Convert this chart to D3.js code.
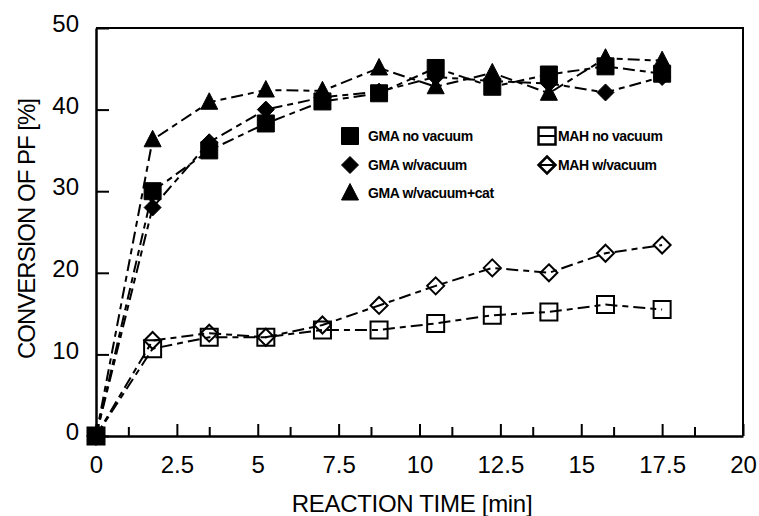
<!DOCTYPE html>
<html>
<head>
<meta charset="utf-8">
<script src="https://cdn.jsdelivr.net/npm/d3@7"></script>
<style>
  body { margin: 0; background: #fff; }
  svg { display: block; font-family: "Liberation Sans", Arial, sans-serif; }
</style>
</head>
<body>
<svg></svg>
<script>
// data
const times = [0, 1.75, 3.5, 5.25, 7, 8.75, 10.5, 12.25, 14, 15.75, 17.5]
const gmaNoVac = [0, 30, 35, 38.3, 41, 42, 45.1, 42.8, 44.3, 45.3, 44.4]
const gmaVac = [0, 28, 36, 40, 41.5, 42.2, 44, 43.5, 43.2, 42.1, 44]
const gmaVacCat = [0, 36.3, 40.9, 42.4, 42.3, 45.1, 42.8, 44.5, 42, 46.3, 46]
const mahNoVac = [0, 10.7, 12.1, 12.1, 13, 13, 13.8, 14.8, 15.2, 16.1, 15.5]
const mahVac = [0, 11.7, 12.6, 12.1, 13.6, 16, 18.4, 20.6, 20, 22.4, 23.4]

const seriesNames = ['GMA no vacuum', 'GMA w/vacuum', 'GMA w/vacuum+cat', 'MAH no vacuum', 'MAH w/vacuum']
const xMajor = [0, 2.5, 5, 7.5, 10, 12.5, 15, 17.5, 20]
const xMinor = [1, 3.5, 6, 8.5, 11, 13.5, 16, 18.5]
const yTicks = [0, 10, 20, 30, 40, 50]

const width = 759, height = 516
const svg = d3.select('svg').attr('width', width).attr('height', height)

const x = d3.scaleLinear().domain([0, 20]).range([96, 743])
const y = d3.scaleLinear().domain([0, 50]).range([436, 28])

// marker shapes
const shapes = {
  square: 'M-8.5,-8.5H8.5V8.5H-8.5Z',
  diamond: 'M0,-8.5L8.5,0L0,8.5L-8.5,0Z',
  triangle: 'M0,-9.5L8.5,7H-8.5Z'
}

const series = [
  {name: seriesNames[0], values: gmaNoVac, shape: 'square', filled: true},
  {name: seriesNames[1], values: gmaVac, shape: 'diamond', filled: true},
  {name: seriesNames[2], values: gmaVacCat, shape: 'triangle', filled: true},
  {name: seriesNames[3], values: mahNoVac, shape: 'square', filled: false},
  {name: seriesNames[4], values: mahVac, shape: 'diamond', filled: false}
]

// frame
svg.append('path')
  .attr('d', `M${x(0)},${y(50)}H${x(20)}V${y(0)}`)
  .attr('fill', 'none').attr('stroke', '#000').attr('stroke-width', 2)

// x axis
const xAxisG = svg.append('g')
  .attr('transform', `translate(0,${y(0)})`)
  .call(d3.axisBottom(x).tickValues(xMajor).tickSize(-12).tickSizeOuter(0).tickPadding(20).tickFormat(d => d))
xAxisG.select('.domain').attr('stroke-width', 2.5)
xAxisG.selectAll('line').attr('stroke-width', 2)
xAxisG.selectAll('text').attr('font-size', 24).attr('font-family', '"Liberation Sans", Arial').attr('fill', '#000')

const xMinorG = svg.append('g')
  .attr('transform', `translate(0,${y(0)})`)
  .call(d3.axisBottom(x).tickValues(xMinor).tickSize(-9).tickFormat(''))
xMinorG.select('.domain').remove()
xMinorG.selectAll('line').attr('stroke-width', 2)

// y axis
const yAxisG = svg.append('g')
  .attr('transform', `translate(${x(0)},0)`)
  .call(d3.axisLeft(y).tickValues(yTicks).tickSize(-13).tickSizeOuter(0).tickPadding(17))
yAxisG.select('.domain').attr('stroke-width', 2.5)
yAxisG.selectAll('line').attr('stroke-width', 2)
yAxisG.selectAll('text').attr('font-size', 24).attr('font-family', '"Liberation Sans", Arial').attr('dy', '0.15em').attr('fill', '#000')

// titles
svg.append('text')
  .attr('x', 412).attr('y', 512)
  .attr('text-anchor', 'middle')
  .attr('font-size', 24).attr('letter-spacing', -0.3)
  .text('REACTION TIME [min]')

svg.append('text')
  .attr('transform', 'translate(35,229) rotate(-90)')
  .attr('text-anchor', 'middle')
  .attr('font-size', 24).attr('letter-spacing', -1)
  .text('CONVERSION OF PF [%]')

// lines
const line = d3.line().x((d, i) => x(times[i])).y(d => y(d))
svg.append('g').selectAll('path')
  .data(series)
  .enter().append('path')
    .attr('d', d => line(d.values))
    .attr('fill', 'none')
    .attr('stroke', '#000')
    .attr('stroke-width', 2)
    .attr('stroke-dasharray', '12,5,6,5')

// markers, open ones first
const order = [3, 4, 1, 2, 0]
order.forEach(k => {
  const s = series[k]
  svg.append('g').selectAll('path')
    .data(s.values)
    .enter().append('path')
      .attr('transform', (d, i) => `translate(${x(times[i])},${y(d)})`)
      .attr('d', shapes[s.shape])
      .attr('fill', s.filled ? '#000' : 'none')
      .attr('stroke', '#000')
      .attr('stroke-width', s.filled ? 1 : 2)
})

// legend
const legendPos = [[350, 136], [350, 165], [350, 193], [547, 136], [547, 165]]
const legend = svg.append('g')
series.forEach((s, k) => {
  const [lx, ly] = legendPos[k]
  legend.append('path')
    .attr('transform', `translate(${lx},${ly})`)
    .attr('d', shapes[s.shape])
    .attr('fill', s.filled ? '#000' : 'none')
    .attr('stroke', '#000')
    .attr('stroke-width', s.filled ? 1 : 2.5)
  if (!s.filled) {
    legend.append('line')
      .attr('x1', lx - 8).attr('x2', lx + 8).attr('y1', ly).attr('y2', ly)
      .attr('stroke', '#000').attr('stroke-width', 2)
  }
  legend.append('text')
    .attr('x', lx + (s.filled ? 18 : 11)).attr('y', ly + 5)
    .attr('font-size', 14).attr('font-weight', 'bold').attr('letter-spacing', -0.4)
    .text(s.name)
})
</script>
</body>
</html>
